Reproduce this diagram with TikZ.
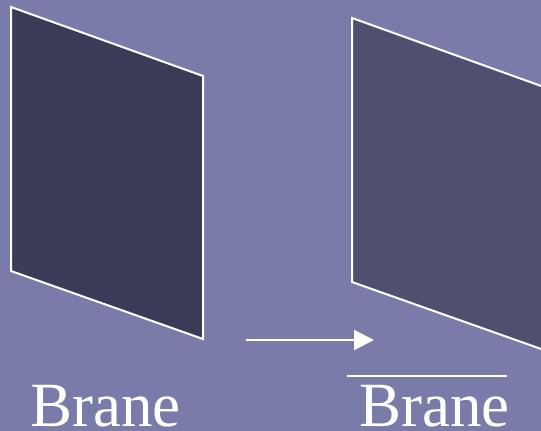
\documentclass[tikz,border=0pt]{standalone}
\usepackage{fontspec}
\setmainfont{Liberation Serif}
\usetikzlibrary{arrows.meta}
\definecolor{bgc}{RGB}{121,123,169}
\definecolor{braneA}{RGB}{59,59,87}
\definecolor{braneB}{RGB}{79,79,111}
\tikzset{
  brane/.style={draw=white, line width=2pt, line join=miter},
  lbl/.style={text=white, font=\fontsize{63}{70}\selectfont, inner sep=0pt, anchor=base west},
}
\begin{document}
\begin{tikzpicture}[x=1pt,y=-1pt]
\fill[bgc] (0,0) rectangle (541,431);
\useasboundingbox (0,0) rectangle (541,431);
\begin{scope}
\clip (0,0) rectangle (541,431);
\filldraw[brane, fill=braneA] (11,7) -- (203,76) -- (203,339) -- (11,271) -- cycle;
\filldraw[brane, fill=braneB] (352,18) -- (544,87) -- (544,350) -- (352,282) -- cycle;
\end{scope}
\coordinate (arrS) at (246,340);
\coordinate (arrE) at (374,340);
\draw[white, line width=2pt, -{Triangle[length=20pt,width=20pt]}] (arrS) -- (arrE);
\node[lbl] (brane) at (30,426) {Brane};
\node[lbl] (antibrane) at (359,426) {Brane};
\coordinate (barS) at (347,376);
\coordinate (barE) at (507,376);
\draw[white, line width=2pt] (barS) -- (barE);
\end{tikzpicture}
\end{document}
